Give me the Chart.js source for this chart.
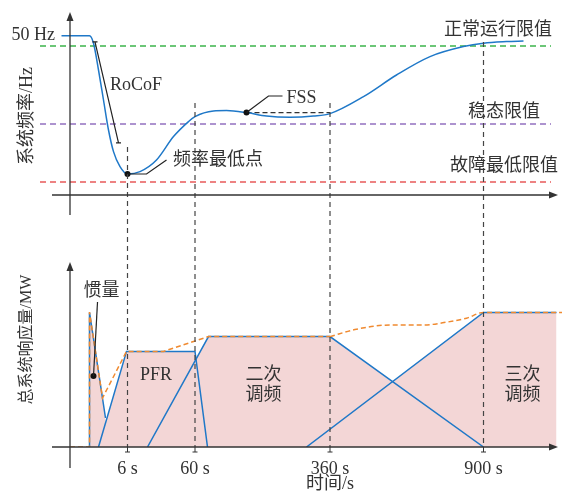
<!DOCTYPE html>
<html>
<head>
<meta charset="utf-8">
<script src="https://cdn.jsdelivr.net/npm/chart.js@4"></script>
<style>
  html, body { margin: 0; padding: 0; background: #fff; }
</style>
</head>
<body>
<canvas id="chart" width="562" height="494"></canvas>
<script>
// Schematic time axis (not to scale), y-axis sits at x = 0
const tickPos = [11.5, 25, 52, 82.7];
const tickLabels = ['6 s', '60 s', '360 s', '900 s'];
// where each time marker starts in the frequency panel
const markerTop = [24, 46, 46, 76.5];

// Top panel: system frequency (schematic units)
const freqX = [-1.7, 3.9, 4.7, 5.7, 6.7, 7.7, 8.7, 10, 11.5, 14, 17.3, 20.7, 23.7, 25, 28.7, 31.3, 35.3, 39.3, 44, 48.7, 52, 58.7, 65.3, 72, 78.7, 82.7, 87.3, 90.7];
const freqY = [79.6, 79.6, 75.9, 62.5, 47.5, 32.5, 21.7, 14.2, 10.5, 11.7, 17.5, 29.2, 36.7, 39.2, 42, 42.2, 41.2, 39.5, 38.9, 39.5, 40.7, 49.2, 60, 69.2, 74.2, 75.9, 76.7, 77];
const normalLimit = 74.5;
const steadyLimit = 35.5;
const faultLimit = 6.5;
const limitSpan = [-6, 96.2];
const nadir = {x: 11.5, y: 10.5};
const fss = {x: 35.3, y: 41.2};
const fssEnd = 52;

// Bottom panel: response (schematic MW)
const inertiaX = [3.9, 3.9, 7.1];
const inertiaY = [0, 67.3, 14.5];
const pfrX = [5.7, 11.3, 25, 27.5];
const pfrY = [0, 47.8, 47.8, 0];
const secondaryX = [15.5, 27.7, 52, 82.7];
const secondaryY = [0, 55.2, 55.2, 0];
const tertiaryX = [47.3, 82.7, 97.3];
const tertiaryY = [0, 67.3, 67.3];
const totalX = [0, 3.9, 3.9, 6.5, 11.3, 18.7, 27.7, 52];
const totalY = [0, 0, 67.5, 24.5, 47.8, 47.8, 55.2, 55.2];
const totalTailX = [52, 57.3, 64, 70.7, 75.3, 79.3, 82.7, 98.4];
const totalTailY = [55.2, 58.9, 61, 61, 62.4, 64.4, 67.3, 67.3];
const inertiaDot = {x: 4.7, y: 35.5};

const BLUE = '#1f78c8';
const ORANGE = '#f08a30';
const PINK = '#f3d6d6';
const INK = '#333';
const FONT = '"Liberation Serif", "Noto Sans CJK SC", serif';

const zip = (xs, ys) => xs.map((x, i) => ({x, y: ys[i]}));
const hline = (y) => [{x: limitSpan[0], y}, {x: limitSpan[1], y}];

// text notes (position in data units of the given panel)
const notes = [
  {text: '50 Hz', axis: 'yTop', x: -3, y: 80, align: 'right'},
  {text: 'RoCoF', axis: 'yTop', x: 8, y: 55, align: 'left'},
  {text: '频率最低点', axis: 'yTop', x: 20.6, y: 17.5, align: 'left'},
  {text: 'FSS', axis: 'yTop', x: 43.3, y: 48.5, align: 'left'},
  {text: '正常运行限值', axis: 'yTop', x: 96.4, y: 82.5, align: 'right'},
  {text: '稳态限值', axis: 'yTop', x: 94, y: 41.5, align: 'right'},
  {text: '故障最低限值', axis: 'yTop', x: 97.6, y: 14.2, align: 'right'},
  {text: '惯量', axis: 'yBot', x: 2.7, y: 77.8, align: 'left'},
  {text: 'PFR', axis: 'yBot', x: 14, y: 36, align: 'left'},
  {text: '二次', axis: 'yBot', x: 38.7, y: 36, align: 'center'},
  {text: '调频', axis: 'yBot', x: 38.7, y: 26, align: 'center'},
  {text: '三次', axis: 'yBot', x: 90.5, y: 36, align: 'center'},
  {text: '调频', axis: 'yBot', x: 90.5, y: 26, align: 'center'},
  {text: '时间/s', axis: 'yBot', x: 52, y: -18.6, align: 'center'}
];

// leader lines and the RoCoF bracket
const leaders = [
  {axis: 'yTop', pts: [[11.5, 10.5], [15.3, 10.5], [19.3, 17.5]]},
  {axis: 'yTop', pts: [[35.3, 41.2], [39.7, 49.5], [42.5, 49.5]]},
  {axis: 'yBot', pts: [[4.7, 35.5], [5.5, 72.5]]}
];
const rocof = [[5, 76.6], [9.7, 26.1]];

const axisX = [-3.6, 97.6];
const topAxisY = [-10, 91.5];
const botAxisY = [-10.5, 92.5];

function arrow(ctx, x1, y1, x2, y2) {
  const a = Math.atan2(y2 - y1, x2 - x1);
  ctx.beginPath();
  ctx.moveTo(x1, y1);
  ctx.lineTo(x2 - 6 * Math.cos(a), y2 - 6 * Math.sin(a));
  ctx.stroke();
  ctx.save();
  ctx.translate(x2, y2);
  ctx.rotate(a);
  ctx.beginPath();
  ctx.moveTo(0, 0);
  ctx.lineTo(-9, -3.5);
  ctx.lineTo(-9, 3.5);
  ctx.closePath();
  ctx.fill();
  ctx.restore();
}

const schematic = {
  id: 'schematic',
  afterDatasetsDraw(chart) {
    const {ctx, scales} = chart;
    const x = scales.x, yTop = scales.yTop, yBot = scales.yBot;
    ctx.save();

    // time markers running through both panels
    ctx.strokeStyle = '#444';
    ctx.lineWidth = 1.2;
    ctx.setLineDash([5, 4]);
    tickPos.forEach((t, i) => {
      const X = x.getPixelForValue(t);
      ctx.beginPath();
      ctx.moveTo(X, yTop.getPixelForValue(markerTop[i]));
      ctx.lineTo(X, yBot.getPixelForValue(0));
      ctx.stroke();
    });
    ctx.setLineDash([]);

    // axes with arrows
    ctx.strokeStyle = INK;
    ctx.fillStyle = INK;
    ctx.lineWidth = 1.3;
    [[yTop, topAxisY], [yBot, botAxisY]].forEach(([ys, span]) => {
      const y0 = ys.getPixelForValue(0);
      arrow(ctx, x.getPixelForValue(axisX[0]), y0, x.getPixelForValue(axisX[1]), y0);
      const x0 = x.getPixelForValue(0);
      arrow(ctx, x0, ys.getPixelForValue(span[0]), x0, ys.getPixelForValue(span[1]));
    });

    // small ticks under the time axis
    const yb = yBot.getPixelForValue(0);
    ctx.lineWidth = 1;
    tickPos.forEach(t => {
      const X = x.getPixelForValue(t);
      ctx.beginPath();
      ctx.moveTo(X, yb);
      ctx.lineTo(X, yb + 5);
      ctx.moveTo(X - 2.5, yb + 5);
      ctx.lineTo(X + 2.5, yb + 5);
      ctx.stroke();
    });

    // RoCoF bracket
    ctx.strokeStyle = '#222';
    ctx.lineWidth = 1.2;
    const r = rocof.map(p => [x.getPixelForValue(p[0]), yTop.getPixelForValue(p[1])]);
    ctx.beginPath();
    ctx.moveTo(r[0][0], r[0][1]);
    ctx.lineTo(r[1][0], r[1][1]);
    r.forEach(p => {
      ctx.moveTo(p[0] - 2.5, p[1]);
      ctx.lineTo(p[0] + 2.5, p[1]);
    });
    ctx.stroke();

    // leader lines
    leaders.forEach(l => {
      const ys = scales[l.axis];
      ctx.beginPath();
      l.pts.forEach((p, i) => {
        const X = x.getPixelForValue(p[0]), Y = ys.getPixelForValue(p[1]);
        if (i === 0) ctx.moveTo(X, Y); else ctx.lineTo(X, Y);
      });
      ctx.stroke();
    });

    // notes
    ctx.fillStyle = INK;
    ctx.textBaseline = 'middle';
    ctx.font = '18px ' + FONT;
    notes.forEach(n => {
      ctx.textAlign = n.align;
      ctx.fillText(n.text, x.getPixelForValue(n.x), scales[n.axis].getPixelForValue(n.y));
    });
    ctx.restore();
  }
};

const ctx = document.getElementById('chart').getContext('2d');
new Chart(ctx, {
  type: 'line',
  data: {
    datasets: [
      {
        data: [nadir, fss], yAxisID: 'yTop', showLine: false,
        pointRadius: 3, pointBackgroundColor: '#111', pointBorderWidth: 0, order: 0
      },
      {
        data: [inertiaDot], yAxisID: 'yBot', showLine: false,
        pointRadius: 3, pointBackgroundColor: '#111', pointBorderWidth: 0, order: 0
      },
      {
        data: zip(freqX, freqY), yAxisID: 'yTop', borderColor: BLUE, borderWidth: 1.5,
        cubicInterpolationMode: 'monotone', order: 1
      },
      {
        data: zip(totalX, totalY), yAxisID: 'yBot', borderColor: ORANGE, borderWidth: 1.5,
        borderDash: [5, 3], order: 1
      },
      {
        data: zip(totalTailX, totalTailY), yAxisID: 'yBot', borderColor: ORANGE, borderWidth: 1.5,
        borderDash: [5, 3], cubicInterpolationMode: 'monotone', order: 1
      },
      {
        data: [fss, {x: fssEnd, y: fss.y}], yAxisID: 'yTop', borderColor: '#333', borderWidth: 1.2,
        borderDash: [5, 3], order: 2
      },
      {data: hline(normalLimit), yAxisID: 'yTop', borderColor: '#3cb44b', borderWidth: 1.3, borderDash: [6, 4], order: 3},
      {data: hline(steadyLimit), yAxisID: 'yTop', borderColor: '#9370c0', borderWidth: 1.3, borderDash: [6, 4], order: 3},
      {data: hline(faultLimit), yAxisID: 'yTop', borderColor: '#e85a5a', borderWidth: 1.3, borderDash: [6, 4], order: 3},
      {data: zip(inertiaX, inertiaY), yAxisID: 'yBot', borderColor: BLUE, borderWidth: 1.5, fill: 'origin', backgroundColor: PINK, order: 2},
      {data: zip(pfrX, pfrY), yAxisID: 'yBot', borderColor: BLUE, borderWidth: 1.5, fill: 'origin', backgroundColor: PINK, order: 2},
      {data: zip(secondaryX, secondaryY), yAxisID: 'yBot', borderColor: BLUE, borderWidth: 1.5, fill: 'origin', backgroundColor: PINK, order: 2},
      {data: zip(tertiaryX, tertiaryY), yAxisID: 'yBot', borderColor: BLUE, borderWidth: 1.5, fill: 'origin', backgroundColor: PINK, order: 2}
    ]
  },
  options: {
    responsive: false,
    animation: false,
    layout: {padding: 0, autoPadding: false},
    elements: {point: {radius: 0}, line: {tension: 0}},
    plugins: {
      legend: {display: false},
      tooltip: {enabled: false},
      filler: {drawTime: 'beforeDatasetsDraw'}
    },
    scales: {
      x: {
        type: 'linear', min: -6.4, max: 98.4,
        grid: {display: false}, border: {display: false},
        afterBuildTicks: s => { s.ticks = tickPos.map(v => ({value: v})); },
        afterFit: s => { s.height = 47; s.paddingLeft = 0; s.paddingRight = 0; },
        ticks: {
          autoSkip: false, maxRotation: 0, padding: 3, color: INK,
          font: {family: FONT, size: 18},
          callback: v => tickLabels[tickPos.indexOf(v)] ?? ''
        }
      },
      yBot: {
        type: 'linear', position: 'left', stack: 'panels', stackWeight: 215,
        min: 0, max: 107.5,
        grid: {display: false}, border: {display: false}, ticks: {display: false},
        afterFit: s => { s.width = 38; },
        title: {display: true, text: '总系统响应量/MW', color: INK, font: {family: FONT, size: 16}, padding: {top: 17, bottom: 0}}
      },
      yTop: {
        type: 'linear', position: 'left', stack: 'panels', stackWeight: 232,
        min: -18.5, max: 97.5,
        grid: {display: false}, border: {display: false}, ticks: {display: false},
        afterFit: s => { s.width = 38; },
        title: {display: true, text: '系统频率/Hz', color: INK, font: {family: FONT, size: 18}, padding: {top: 16.2, bottom: 0}}
      }
    }
  },
  plugins: [schematic]
});
</script>
</body>
</html>
